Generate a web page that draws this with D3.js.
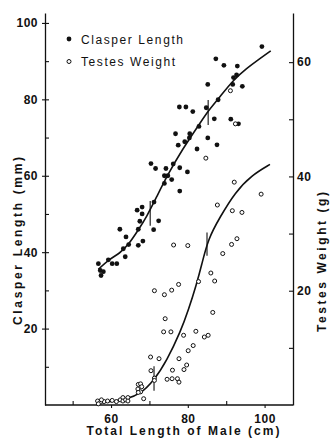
<!DOCTYPE html>
<html>
<head>
<meta charset="utf-8">
<script src="https://cdn.jsdelivr.net/npm/d3@7"></script>
<style>
  body { margin: 0; background: #fff; }
  text { font-family: "Liberation Sans", Arial, sans-serif; fill: #111; }
</style>
</head>
<body>
<div id="chart"></div>
<script>
// Data
const claspX = [56.7, 57.2, 57.4, 58.0, 59.3, 60.3, 61.5, 62.3, 63.2, 63.7, 63.9, 64.6, 67.1, 67.1, 68.3, 67.5, 66.8, 68.1, 68.1, 71.1,
  72.4, 70.4, 71.6, 74.3, 76.2, 77.9, 79.9, 73.9, 74.8, 75.8, 73.9, 77.9, 77.5, 76.8, 80.5, 79.2, 80.4, 82.4, 82.9, 77.8,
  79.5, 81.3, 84.8, 85.2, 85.2, 86.9, 87.6, 87.9, 87.3, 89.4, 91.2, 93.2, 91.7, 91.9, 92.7, 92.9, 94.2, 99.3, 71.2];
const claspY = [37.0, 35.2, 33.9, 34.9, 38.0, 37.0, 37.0, 46.0, 40.9, 38.8, 44.0, 42.0, 46.0, 41.8, 42.9, 48.1, 51.0, 51.8, 50.0, 45.9,
  48.2, 63.2, 61.9, 61.9, 63.1, 62.1, 61.0, 60.0, 60.0, 59.0, 58.0, 56.0, 68.0, 71.0, 71.0, 68.9, 69.9, 67.0, 72.9, 78.0,
  78.0, 76.8, 77.8, 83.9, 69.9, 74.9, 68.1, 79.9, 90.6, 88.9, 74.8, 73.6, 83.9, 85.7, 86.4, 88.7, 83.4, 93.8, 53.1];

const testesX = [91.1, 92.4, 84.7, 92.1, 99.1, 87.7, 91.6, 94.1, 92.8, 91.4, 89.1, 76.3, 80.0, 86.0, 87.0, 82.8, 77.6, 75.8, 71.3, 73.9,
  74.1, 86.5, 73.7, 75.6, 78.9, 82.1, 84.3, 85.3, 81.4, 80.1, 77.7, 79.7, 79.0, 76.0, 74.6, 75.9, 77.3, 77.7, 70.3, 72.5,
  70.4, 71.3, 71.3, 67.1, 67.7, 68.0, 67.0, 67.7, 67.1, 68.5, 56.5, 57.3, 56.7, 58.2, 59.1, 60.3, 61.4, 62.4, 63.1, 63.1,
  63.8, 64.4, 64.4, 57.5];
const testesY = [55.0, 49.2, 43.2, 39.0, 36.9, 35.0, 34.0, 33.7, 29.1, 28.1, 26.5, 28.0, 27.9, 23.1, 21.7, 21.6, 21.1, 20.1, 20.0, 19.3,
  15.1, 16.2, 12.8, 12.8, 12.2, 12.9, 11.9, 12.2, 10.4, 9.5, 8.1, 7.0, 6.2, 6.1, 4.5, 4.6, 4.6, 4.0, 8.4, 8.1,
  6.0, 4.7, 4.3, 3.6, 3.7, 3.2, 2.8, 2.3, 2.2, 1.1, 0.7, 0.5, 0.2, 0.6, 0.7, 0.8, 0.6, 0.9, 1.3, 0.7,
  0.9, 1.3, 0.7, 0.9];

// fitted curves
const claspCurveX = [56.7, 59.3, 62.3, 64.5, 67.1, 69.3, 71.9, 74.5, 78.5, 83.2, 85.3, 88.4, 91.9, 95.3, 98.8, 101.6];
const claspCurveY = [35.5, 38.0, 39.7, 41.9, 45.8, 49.3, 54.5, 59.8, 66.8, 73.8, 77.0, 80.7, 85.1, 88.1, 90.7, 92.7];
const testesCurveX = [56.3, 60.0, 64.0, 67.6, 71.2, 74.5, 78.2, 80.1, 82.3, 83.6, 85.3, 88.4, 92.3, 96.6, 101.4];
const testesCurveY = [0.4, 0.6, 1.0, 1.9, 4.3, 7.7, 13.0, 16.5, 21.2, 24.5, 29.1, 32.9, 37.2, 40.2, 42.1];

// vertical bars on the curves
const claspBarX = [70.2, 85.3], claspBarLo = [46.9, 73.3], claspBarHi = [53.4, 79.8];
const testesBarX = [71.2, 85.0], testesBarLo = [2.5, 26.1], testesBarHi = [6.8, 30.2];

// ticks
const xTicks = [60, 80, 100], xMinor = [50, 70, 90];
const leftTicks = [20, 40, 60, 80, 100], leftMinor = [10, 30, 50, 70, 90];
const rightTicks = [20, 40, 60], rightMinor = [10, 30, 50];

const width = 330, height = 439;
const plot = {left: 45, right: 293, top: 13, bottom: 405};

const svg = d3.select("#chart").append("svg")
    .attr("width", width)
    .attr("height", height);

const x = d3.scaleLinear().domain([42.8, 107.4]).range([plot.left, plot.right]);
const yL = d3.scaleLinear().domain([0, 102.6]).range([plot.bottom, plot.top]);
const yR = d3.scaleLinear().domain([0, 68.6]).range([plot.bottom, plot.top]);

// axes
const gx = svg.append("g").attr("transform", `translate(0,${plot.bottom})`);
gx.call(d3.axisBottom(x).tickValues(xTicks).tickSize(3).tickPadding(6).tickSizeOuter(0));
gx.append("g").call(d3.axisTop(x).tickValues(xMinor).tickSize(4).tickFormat("").tickSizeOuter(0))
    .select(".domain").remove();
gx.select(".domain").attr("d", `M${plot.left},0H${plot.right}`);

const gl = svg.append("g").attr("transform", `translate(${plot.left},0)`);
gl.call(d3.axisLeft(yL).tickValues(leftTicks).tickSize(3).tickPadding(4).tickSizeOuter(0));
gl.append("g").call(d3.axisRight(yL).tickValues(leftTicks.concat(leftMinor)).tickSize(4).tickFormat("").tickSizeOuter(0))
    .select(".domain").remove();

const gr = svg.append("g").attr("transform", `translate(${plot.right},0)`);
gr.call(d3.axisRight(yR).tickValues(rightTicks).tickSize(0).tickPadding(4).tickSizeOuter(0));
gr.append("g").call(d3.axisLeft(yR).tickValues(rightTicks.concat(rightMinor)).tickSize(4).tickFormat("").tickSizeOuter(0))
    .select(".domain").remove();

svg.selectAll(".domain").attr("stroke", "#111").attr("stroke-width", 1.3);
svg.selectAll(".tick line").attr("stroke", "#111").attr("stroke-width", 1.1);
svg.selectAll(".tick text")
    .attr("font-family", "Liberation Sans, Arial, sans-serif")
    .attr("font-size", 12)
    .attr("font-weight", "bold")
    .attr("letter-spacing", 0.5)
    .attr("fill", "#111");

// curves
const lineL = d3.line().x(d => x(d[0])).y(d => yL(d[1])).curve(d3.curveBasis);
const lineR = d3.line().x(d => x(d[0])).y(d => yR(d[1])).curve(d3.curveBasis);
svg.append("path")
    .datum(claspCurveX.map((v, i) => [v, claspCurveY[i]]))
    .attr("fill", "none").attr("stroke", "#111").attr("stroke-width", 1.6)
    .attr("d", lineL);
svg.append("path")
    .datum(testesCurveX.map((v, i) => [v, testesCurveY[i]]))
    .attr("fill", "none").attr("stroke", "#111").attr("stroke-width", 1.6)
    .attr("d", lineR);

// bars
svg.append("g").selectAll("line")
    .data(claspBarX)
    .join("line")
    .attr("x1", d => x(d)).attr("x2", d => x(d))
    .attr("y1", (d, i) => yL(claspBarLo[i])).attr("y2", (d, i) => yL(claspBarHi[i]))
    .attr("stroke", "#111").attr("stroke-width", 1.1);
svg.append("g").selectAll("line")
    .data(testesBarX)
    .join("line")
    .attr("x1", d => x(d)).attr("x2", d => x(d))
    .attr("y1", (d, i) => yR(testesBarLo[i])).attr("y2", (d, i) => yR(testesBarHi[i]))
    .attr("stroke", "#111").attr("stroke-width", 1.1);

// points
svg.append("g").selectAll("circle")
    .data(claspX.map((v, i) => [v, claspY[i]]))
    .join("circle")
    .attr("cx", d => x(d[0]))
    .attr("cy", d => yL(d[1]))
    .attr("r", 2.4)
    .attr("fill", "#111");
svg.append("g").selectAll("circle")
    .data(testesX.map((v, i) => [v, testesY[i]]))
    .join("circle")
    .attr("cx", d => x(d[0]))
    .attr("cy", d => yR(d[1]))
    .attr("r", 2)
    .attr("fill", "#fff")
    .attr("stroke", "#111")
    .attr("stroke-width", 1);

// legend
const legend = svg.append("g");
legend.append("circle").attr("cx", 69).attr("cy", 39).attr("r", 2.4).attr("fill", "#111");
legend.append("circle").attr("cx", 69).attr("cy", 61.5).attr("r", 2).attr("fill", "#fff")
    .attr("stroke", "#111").attr("stroke-width", 1);
legend.append("text").attr("x", 81).attr("y", 43.5).attr("font-size", 12)
    .attr("textLength", 102).attr("lengthAdjust", "spacing").text("Clasper Length");
legend.append("text").attr("x", 81).attr("y", 66).attr("font-size", 12)
    .attr("textLength", 94).attr("lengthAdjust", "spacing").text("Testes Weight");

// axis titles
svg.append("text")
    .attr("x", 183).attr("y", 435)
    .attr("text-anchor", "middle").attr("font-size", 12).attr("font-weight", 600)
    .attr("textLength", 193).attr("lengthAdjust", "spacing")
    .text("Total Length of Male (cm)");
svg.append("text")
    .attr("transform", "translate(22,241) rotate(-90)")
    .attr("text-anchor", "middle").attr("font-size", 12).attr("font-weight", 600)
    .attr("textLength", 168).attr("lengthAdjust", "spacing")
    .text("Clasper Length (mm)");
svg.append("text")
    .attr("transform", "translate(326,262) rotate(-90)")
    .attr("text-anchor", "middle").attr("font-size", 12).attr("font-weight", 600)
    .attr("textLength", 140).attr("lengthAdjust", "spacing")
    .text("Testes Weight (g)");
</script>
</body>
</html>
